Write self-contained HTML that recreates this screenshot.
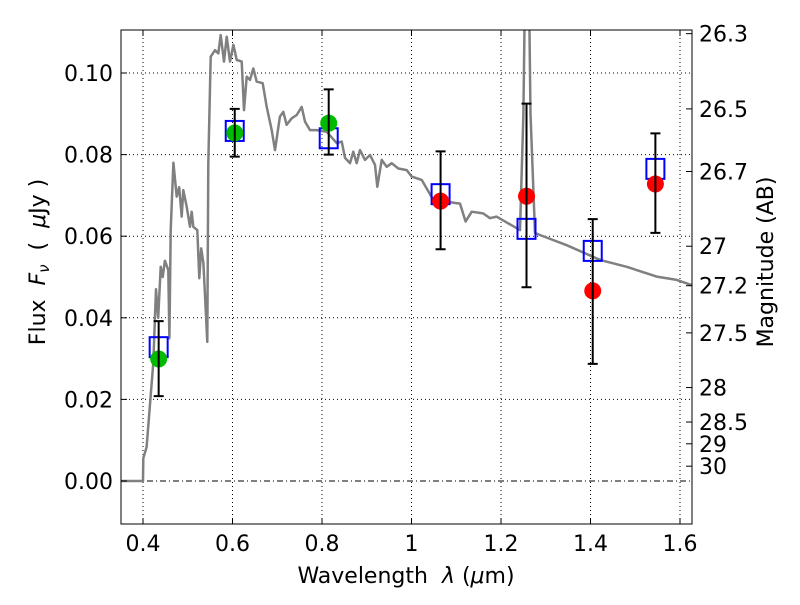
<!DOCTYPE html>
<html><head><meta charset="utf-8"><style>
body{margin:0;background:#fff;}
svg text{font-family:"DejaVu Sans","Liberation Sans",sans-serif;white-space:pre;}
</style></head><body>
<svg id="chart" width="800" height="600" viewBox="0 0 800 600" xmlns="http://www.w3.org/2000/svg">
<rect width="800" height="600" fill="#fff"/>
<g id="grid"></g>
<g id="spec"></g>
<g id="pts"></g>
<g id="axes"></g>
</svg>
<script>
const specWl=[0.35,0.4,0.4007,0.408,0.423,0.429,0.434,0.4395,0.444,0.449,0.4565,0.459,0.462,0.468,0.4753,0.481,0.4865,0.49,0.4977,0.505,0.5088,0.5125,0.5213,0.5258,0.53,0.535,0.5437,0.546,0.5512,0.561,0.5683,0.5736,0.581,0.587,0.5944,0.602,0.6094,0.6206,0.6257,0.6317,0.639,0.6465,0.654,0.6675,0.6764,0.6876,0.695,0.706,0.7135,0.721,0.7323,0.7434,0.7546,0.762,0.7732,0.788,0.8105,0.833,0.844,0.8514,0.8626,0.87,0.8775,0.885,0.896,0.9073,0.9185,0.9235,0.9334,0.9446,0.9558,0.9705,0.9893,1.0004,1.0228,1.034,1.0488,1.1084,1.121,1.1345,1.16,1.1754,1.19,1.2425,1.25,1.258,1.266,1.276,1.287,1.3468,1.4212,1.481,1.548,1.5926,1.627];
const specFlux=[0,0,0.0056,0.0083,0.029,0.047,0.040,0.0525,0.050,0.054,0.0517,0.035,0.0615,0.078,0.0697,0.072,0.0648,0.0713,0.0672,0.0623,0.066,0.0623,0.0615,0.0497,0.057,0.0534,0.0341,0.0779,0.104,0.1056,0.1048,0.1093,0.1028,0.1089,0.1028,0.1069,0.1032,0.1028,0.0909,0.0991,0.0983,0.1011,0.0979,0.0975,0.0917,0.086,0.0811,0.0893,0.0905,0.0873,0.0889,0.0897,0.0917,0.0881,0.086,0.086,0.0856,0.0828,0.0832,0.0792,0.0779,0.0807,0.0779,0.0811,0.0787,0.0799,0.0775,0.0721,0.0787,0.077,0.0779,0.0766,0.0762,0.0746,0.0738,0.0717,0.0689,0.068,0.0636,0.066,0.0656,0.0644,0.0648,0.0615,0.09,0.16,0.09,0.0608,0.0603,0.0578,0.0542,0.0525,0.0501,0.0493,0.048];
const obsWl=[0.435,0.605,0.815,1.065,1.257,1.405,1.545];
const obsFlux=[0.0299,0.0853,0.0877,0.0686,0.0698,0.0466,0.0728];
const obsErrHi=[0.0392,0.0912,0.0960,0.0808,0.0925,0.0642,0.0852];
const obsErrLo=[0.0208,0.0795,0.0800,0.0568,0.0475,0.0287,0.0608];
const obsColor=["#00bb00","#00bb00","#00bb00","#ff0000","#ff0000","#ff0000","#ff0000"];
const modelFlux=[0.0328,0.0858,0.084,0.0703,0.0618,0.0564,0.0765];
const xTicks=[0.4,0.6,0.8,1,1.2,1.4,1.6];
const xTickLabels=["0.4","0.6","0.8","1","1.2","1.4","1.6"];
const yTicks=[0,0.02,0.04,0.06,0.08,0.10];
const yTickLabels=["0.00","0.02","0.04","0.06","0.08","0.10"];
const magTicks=[26.3,26.5,26.7,27,27.2,27.5,28,28.5,29,30];
const magLabels=["26.3","26.5","26.7","27","27.2","27.5","28","28.5","29","30"];

const L=121,R=692,T=30,B=524;
const xs=v=>143+(v-0.4)*447.5;
const ys=v=>481-v*4080;
const NS="http://www.w3.org/2000/svg";
function mk(tag,attrs,parent,txt){const e=document.createElementNS(NS,tag);for(const k in attrs)e.setAttribute(k,attrs[k]);if(txt!==undefined)e.textContent=txt;parent.appendChild(e);return e;}
const grid=document.getElementById('grid'),spec=document.getElementById('spec'),pts=document.getElementById('pts'),axes=document.getElementById('axes');

xTicks.forEach((t,i)=>{
 const g=mk('line',{x1:xs(t),x2:xs(t),y1:T,y2:B,stroke:'#000','stroke-width':1,'stroke-dasharray':'1,3'},grid);
 
 const tk=mk('line',{x1:xs(t),x2:xs(t),y1:B,y2:B-6,stroke:'#000'},axes);
 
 mk('line',{x1:xs(t),x2:xs(t),y1:T,y2:T+6,stroke:'#000'},axes);
 const lb=mk('text',{x:xs(t),y:B+27,'text-anchor':'middle','font-size':22},axes,xTickLabels[i]);
 
});
yTicks.forEach((t,i)=>{
 if(t!==0){const g=mk('line',{x1:L,x2:R,y1:ys(t),y2:ys(t),stroke:'#000','stroke-width':1,'stroke-dasharray':'1,3'},grid);
 }
 const tk=mk('line',{x1:L,x2:L+6,y1:ys(t),y2:ys(t),stroke:'#000'},axes);
 
 const lb=mk('text',{x:L-8,y:ys(t)+8,'text-anchor':'end','font-size':22},axes,yTickLabels[i]);
 
});
const zl=mk('line',{x1:L,x2:R,y1:ys(0),y2:ys(0),stroke:'#000','stroke-width':1,'stroke-dasharray':'6,3,1,3'},grid);

magTicks.forEach((m,i)=>{
 const y=ys(Math.pow(10,(23.9-m)/2.5));
 const tk=mk('line',{x1:R,x2:R-6,y1:y,y2:y,stroke:'#000'},axes);
 
 const lb=mk('text',{x:R+7,y:y+8,'font-size':22},axes,magLabels[i]);
 
});

const clip=mk('clipPath',{id:'pc'},spec);mk('rect',{x:L,y:T,width:R-L,height:B-T},clip);
const d=specWl.map((w,i)=>(i?'L':'M')+xs(w).toFixed(1)+','+ys(specFlux[i]).toFixed(1)).join(' ');
const sp=mk('path',{d:d,fill:'none',stroke:'#808080','stroke-width':2.5,'stroke-linejoin':'round','clip-path':'url(#pc)'},spec);


obsWl.forEach((w,i)=>{
 const x=xs(w);
 const sq=mk('rect',{x:x-9,y:ys(modelFlux[i])-10,width:18,height:20,fill:'none',stroke:'#0000ff','stroke-width':2},pts);
 
 const c=mk('circle',{cx:x,cy:ys(obsFlux[i]),r:8.5,fill:obsColor[i]},pts);
 
 const eb=mk('path',{d:`M${x},${ys(obsErrHi[i])}L${x},${ys(obsErrLo[i])}M${x-5},${ys(obsErrHi[i])}L${x+5},${ys(obsErrHi[i])}M${x-5},${ys(obsErrLo[i])}L${x+5},${ys(obsErrLo[i])}`,stroke:'#000','stroke-width':2,fill:'none'},pts);
 
});

const fr=mk('rect',{x:L,y:T,width:R-L,height:B-T,fill:'none',stroke:'#000','stroke-width':1},axes);

const xt=mk('text',{x:406,y:583,'text-anchor':'middle','font-size':22},axes);

xt.innerHTML='Wavelength\u00a0\u00a0<tspan font-style="italic">λ</tspan>\u00a0(<tspan font-style="italic">μ</tspan>m)';
const yt=mk('text',{x:0,y:0,'text-anchor':'middle','font-size':22,transform:'translate(45,262) rotate(-90)'},axes);

yt.innerHTML='Flux\u00a0\u00a0<tspan font-style="italic">F</tspan><tspan font-style="italic" font-size="15" dy="4">ν</tspan><tspan dy="-4">\u00a0\u00a0(\u00a0\u00a0</tspan><tspan font-style="italic">μ</tspan>Jy\u00a0)';
const rt=mk('text',{x:0,y:0,'text-anchor':'middle','font-size':22,transform:'translate(773,262) rotate(-90)'},axes,'Magnitude (AB)');

</script>
</body></html>
